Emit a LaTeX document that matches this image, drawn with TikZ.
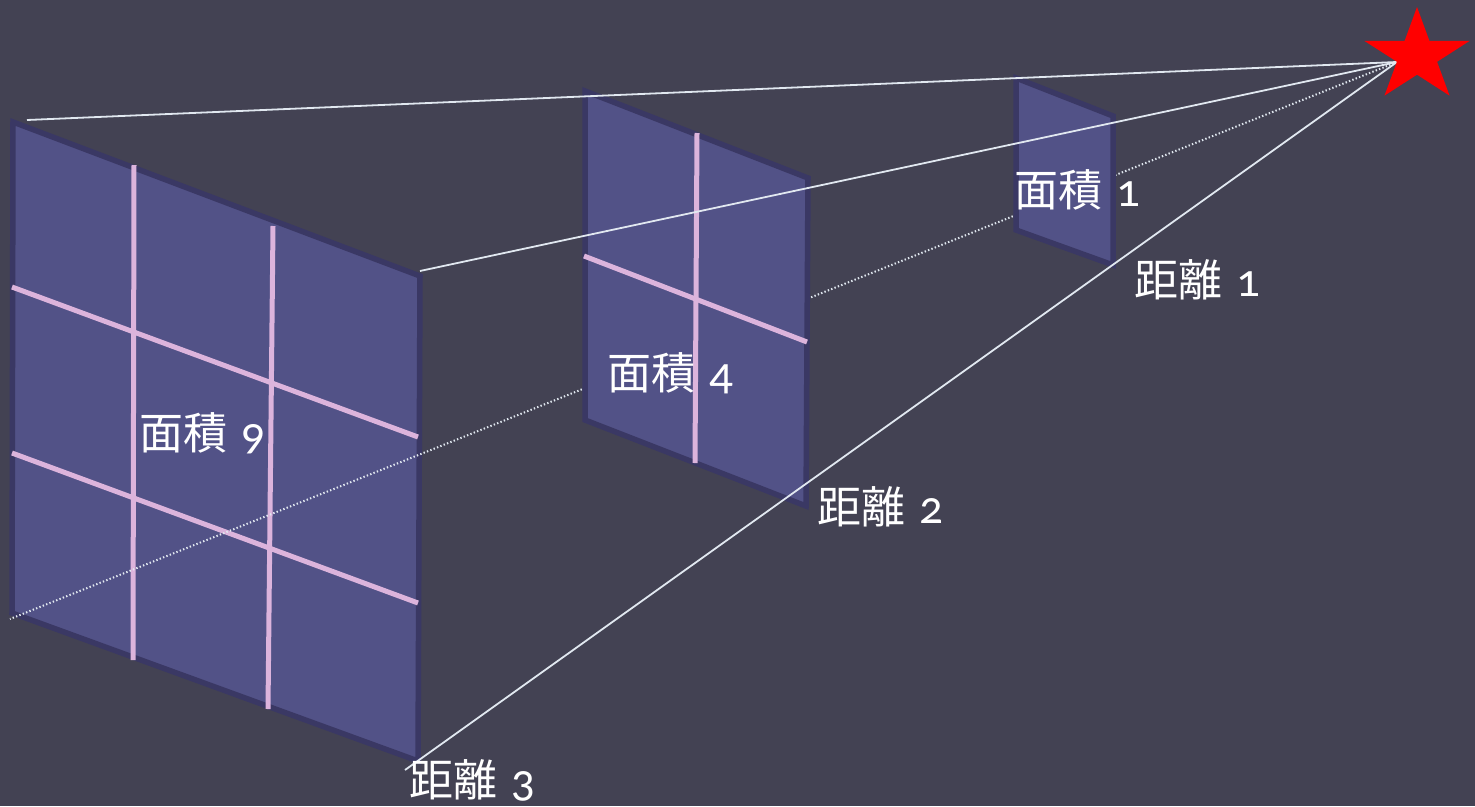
\documentclass[tikz,border=0pt]{standalone}
\usepackage{fontspec}
\setmainfont{Carlito}[Numbers=OldStyle]
\newfontfamily\cjkfont{Noto Sans CJK JP}
\definecolor{bgcol}{RGB}{67,66,83}
\definecolor{panelfill}{RGB}{82,82,135}
\definecolor{panelline}{RGB}{58,56,100}
\definecolor{gridpink}{RGB}{220,180,220}
\definecolor{raycol}{RGB}{225,232,240}
\newcommand\mylabel[2]{{\cjkfont #1}\hspace{14pt}{\fontsize{47}{50}\selectfont #2}}
\begin{document}
\begin{tikzpicture}[x=1pt,y=-1pt,
  panel/.style={fill=panelfill,draw=panelline,line width=5.5pt,line join=miter},
  gridline/.style={draw=gridpink,line width=5pt},
  ray/.style={draw=raycol,line width=1.8pt},
  dotray/.style={draw=raycol,line width=2pt,dash pattern=on 1.4pt off 2.2pt},
  lbl/.style={text=white,inner sep=0pt,anchor=base west,font=\fontsize{44}{50}\selectfont}]
\fill[bgcol] (0,0) rectangle (1475,806);
\useasboundingbox (0,0) rectangle (1475,806);
% apex of the rays and star
\coordinate (apex) at (1397,62);
% big panel
\coordinate (b1) at (13,122);
\coordinate (b2) at (420,276);
\coordinate (b3) at (418,761);
\coordinate (b4) at (12,613);
% middle panel
\coordinate (m1) at (585,91);
\coordinate (m2) at (808,178);
\coordinate (m3) at (806,506);
\coordinate (m4) at (585,420);
% small panel
\coordinate (s1) at (1016,78);
\coordinate (s2) at (1113,116);
\coordinate (s3) at (1113,265);
\coordinate (s4) at (1016,230);
% ray ends
\coordinate (r1) at (27,120);
\coordinate (r2) at (420,271);
\coordinate (r3) at (10,619);
\coordinate (r4) at (405,770);

\path[panel] (b1) -- (b2) -- (b3) -- (b4) -- cycle;
% grid on big panel
\coordinate (bv1a) at (134,165); \coordinate (bv1b) at (133,660);
\coordinate (bv2a) at (273,226); \coordinate (bv2b) at (268,709);
\coordinate (bh1a) at (12,287);  \coordinate (bh1b) at (418,437);
\coordinate (bh2a) at (12,453);  \coordinate (bh2b) at (418,603);
\draw[gridline] (bv1a) -- (bv1b);
\draw[gridline] (bv2a) -- (bv2b);
\draw[gridline] (bh1a) -- (bh1b);
\draw[gridline] (bh2a) -- (bh2b);

\draw[dotray] (apex) -- (r3);

\path[panel] (m1) -- (m2) -- (m3) -- (m4) -- cycle;
\coordinate (mva) at (697,133); \coordinate (mvb) at (695,463);
\coordinate (mha) at (584,256); \coordinate (mhb) at (807,342);
\draw[gridline] (mva) -- (mvb);
\draw[gridline] (mha) -- (mhb);

\path[panel] (s1) -- (s2) -- (s3) -- (s4) -- cycle;

\draw[ray] (apex) -- (r1);
\draw[ray] (apex) -- (r2);
\draw[ray] (apex) -- (r4);

% star
\begin{scope}[shift={(1417,56)},xscale=1.13]
\fill[red] (-90:49) -- (-54:18.7) -- (-18:49) -- (18:18.7) -- (54:49)
  -- (90:18.7) -- (126:49) -- (162:18.7) -- (198:49) -- (234:18.7) -- cycle;
\end{scope}

\node[lbl] (a1) at (1014,206) {\mylabel{面積}{1}};
\node[lbl] (d1) at (1134,296) {\mylabel{距離}{1}};
\node[lbl] (a4) at (607,389) {\mylabel{面積}{4}};
\node[lbl] (d2) at (817,523) {\mylabel{距離}{2}};
\node[lbl] (a9) at (139,449) {\mylabel{面積}{9}};
\node[lbl] (d3) at (409,796) {\mylabel{距離}{3}};
\end{tikzpicture}
\end{document}
